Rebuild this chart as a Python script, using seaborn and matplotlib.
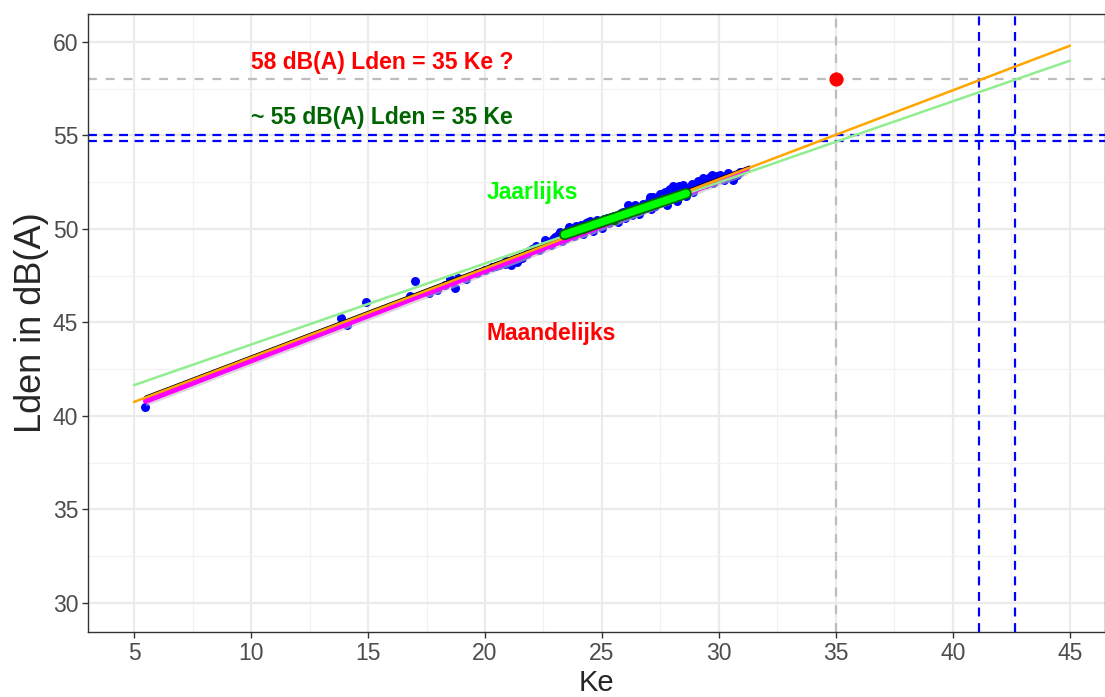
import seaborn as sns
import matplotlib.pyplot as plt
import pandas as pd

# maandelijkse waarnemingen (Ke, Lden)
ke = [5.45, 13.85, 14.1, 14.9, 16.8, 17.0, 17.6, 17.95, 18.3, 18.5, 18.7, 18.85, 19.2, 19.65,
      20.0, 20.3, 20.6, 20.85, 21.1, 21.35, 21.6, 21.8, 22.0, 22.2, 22.4, 22.55, 22.8, 23.0,
      23.1, 23.3, 23.5, 23.6, 23.8, 23.9, 24.1, 24.2, 24.4, 24.5, 24.6, 24.8, 24.9, 25.0,
      25.1, 25.3, 25.4, 25.5, 25.7, 25.8, 26.0, 26.1, 26.2, 26.3, 26.5, 26.6, 26.75, 26.9,
      27.0, 27.1, 27.2, 27.35, 27.5, 27.6, 27.7, 27.8, 27.9, 28.0, 28.1, 28.2, 28.3, 28.4,
      28.5, 28.6, 28.75, 28.9, 29.1, 29.3, 29.45, 29.6, 29.75, 29.9, 30.05, 30.2, 30.4,
      30.6, 30.9,
      22.9, 23.2, 23.45, 23.7, 24.0, 24.3, 24.7, 25.2, 25.6, 25.9, 26.4, 26.7, 27.05, 27.25,
      27.45, 27.65, 27.85, 28.05, 28.25, 28.45, 28.65, 28.85, 29.0, 29.2, 29.35, 29.55, 29.7,
      29.85, 30.1, 30.3, 30.5, 30.75, 21.9, 22.3, 22.65, 21.45, 20.9, 20.45]
lden = [40.48, 45.24, 44.87, 46.1, 46.4, 47.2, 46.6, 46.75, 47.0, 47.35, 46.85, 47.4, 47.3, 47.65,
        47.8, 47.95, 48.05, 48.15, 48.1, 48.25, 48.45, 48.65, 48.95, 49.1, 49.0, 49.4, 49.15, 49.55,
        49.7, 49.35, 49.9, 50.1, 49.6, 50.15, 50.2, 49.75, 50.35, 50.45, 49.9, 50.5, 50.4, 50.05,
        50.55, 50.3, 50.65, 50.7, 50.4, 50.85, 50.6, 51.3, 51.0, 50.75, 51.15, 50.8, 51.35, 51.1,
        51.5, 51.05, 51.7, 51.4, 51.85, 51.55, 52.0, 51.3, 52.15, 51.75, 52.25, 51.5, 52.3, 52.0,
        52.2, 51.75, 52.25, 52.0, 52.55, 52.75, 52.4, 52.8, 52.45, 52.85, 52.9, 52.6, 53.0,
        52.6, 53.05,
        49.45, 49.85, 49.5, 50.0, 49.95, 50.3, 50.3, 50.6, 50.5, 50.9, 51.3, 51.0, 51.7, 51.25,
        51.6, 51.9, 52.1, 52.3, 52.1, 52.35, 52.2, 52.4, 52.3, 52.45, 52.6, 52.65, 52.9,
        52.7, 52.75, 52.85, 52.8, 52.9, 48.8, 48.9, 49.3, 48.4, 48.3, 48.0]

# jaarlijkse waarnemingen
ke_jaar = [24.2, 25.5, 26.8, 27.6, 28.5]
lden_jaar = [50.0, 50.5, 51.2, 51.6, 51.85]

# fitlijnen (begin- en eindpunt)
fit_zwart_x, fit_zwart_y = [5.5, 31.3], [41.0, 53.3]
fit_maand_x, fit_maand_y = [5.5, 31.2], [40.8, 53.15]
fit_jaar_x, fit_jaar_y = [23.4, 28.6], [49.7, 51.9]
extra_lichtgroen_x, extra_lichtgroen_y = [5, 45], [41.65, 59.0]
extra_oranje_x, extra_oranje_y = [5, 45], [40.75, 59.8]

vraag_ke, vraag_lden = 35, 58
blauw_h = [55.05, 54.7]
blauw_v = [41.1, 42.65]

sns.set_theme(style="whitegrid")
plt.rcParams['font.family'] = ['Liberation Sans', 'DejaVu Sans']

fig = plt.figure(figsize=(11.05, 6.97), dpi=100)
ax = fig.add_axes([0.0796, 0.0933, 0.9204, 0.8867])

df = pd.DataFrame({'Ke': ke, 'Lden': lden})
sns.scatterplot(x='Ke', y='Lden', data=df, color='blue', s=42, linewidth=0, ax=ax, zorder=3)

sns.lineplot(x=fit_zwart_x, y=fit_zwart_y, color='black', lw=2.5, ax=ax, zorder=4)
ax.fill_between(fit_maand_x, [v - 0.25 for v in fit_maand_y], [v + 0.1 for v in fit_maand_y],
                color='#c8b8c8', alpha=0.6, lw=0, zorder=4)
sns.lineplot(x=fit_maand_x, y=fit_maand_y, color='magenta', lw=4, ax=ax, zorder=5)
sns.lineplot(x=extra_lichtgroen_x, y=extra_lichtgroen_y, color='lightgreen', lw=1.8, ax=ax, zorder=5)
sns.lineplot(x=extra_oranje_x, y=extra_oranje_y, color='orange', lw=1.8, ax=ax, zorder=6)
sns.scatterplot(x=ke_jaar, y=lden_jaar, color='darkgreen', s=45, linewidth=0, ax=ax, zorder=6)
sns.lineplot(x=fit_jaar_x, y=fit_jaar_y, color='darkgreen', lw=8, ax=ax, zorder=7,
             solid_capstyle='round')
sns.lineplot(x=fit_jaar_x, y=fit_jaar_y, color='lime', lw=5.5, ax=ax, zorder=8)

ax.axhline(vraag_lden, color='#bdbdbd', lw=1.6, ls=(0, (4, 4)), zorder=2)
ax.axvline(vraag_ke, color='#bdbdbd', lw=1.6, ls=(0, (4, 4)), zorder=2)
for h in blauw_h:
    ax.axhline(h, color='blue', lw=1.6, ls=(0, (4, 3)), zorder=2)
for v in blauw_v:
    ax.axvline(v, color='blue', lw=1.6, ls=(0, (4, 3)), zorder=2)
ax.scatter([vraag_ke], [vraag_lden], color='red', s=85, zorder=9)

ax.text(10.0, 58.9, '58 dB(A) Lden = 35 Ke ?', color='red', fontsize=16.5,
        fontweight='bold', va='center')
ax.text(10.0, 55.95, '~ 55 dB(A) Lden = 35 Ke', color='darkgreen', fontsize=16.5,
        fontweight='bold', va='center')
ax.text(20.05, 51.95, 'Jaarlijks', color='lime', fontsize=16.5, fontweight='bold', va='center')
ax.text(20.05, 44.4, 'Maandelijks', color='red', fontsize=16.5, fontweight='bold', va='center')

ax.set_xticks(range(5, 46, 5))
ax.set_yticks(range(30, 61, 5))
ax.set_xticks([x + 2.5 for x in range(0, 46, 5)], minor=True)
ax.set_yticks([y + 2.5 for y in range(25, 61, 5)], minor=True)
ax.set_xlim(3.03, 46.5)
ax.set_ylim(28.45, 61.5)
ax.grid(which='major', color='#ebebeb', lw=1.6)
ax.grid(which='minor', color='#f2f2f2', lw=0.9)
for s in ax.spines.values():
    s.set_color('#333333')
    s.set_linewidth(1.0)
ax.tick_params(axis='both', which='major', length=4, width=1, color='#333333',
               labelsize=16.5, labelcolor='#4d4d4d', bottom=True, left=True, pad=3)
ax.tick_params(which='minor', length=0)
ax.set_xlabel('Ke', fontsize=21, labelpad=3)
ax.set_ylabel('Lden in dB(A)', fontsize=26, labelpad=3)

fig.savefig('out.png', dpi=100)
